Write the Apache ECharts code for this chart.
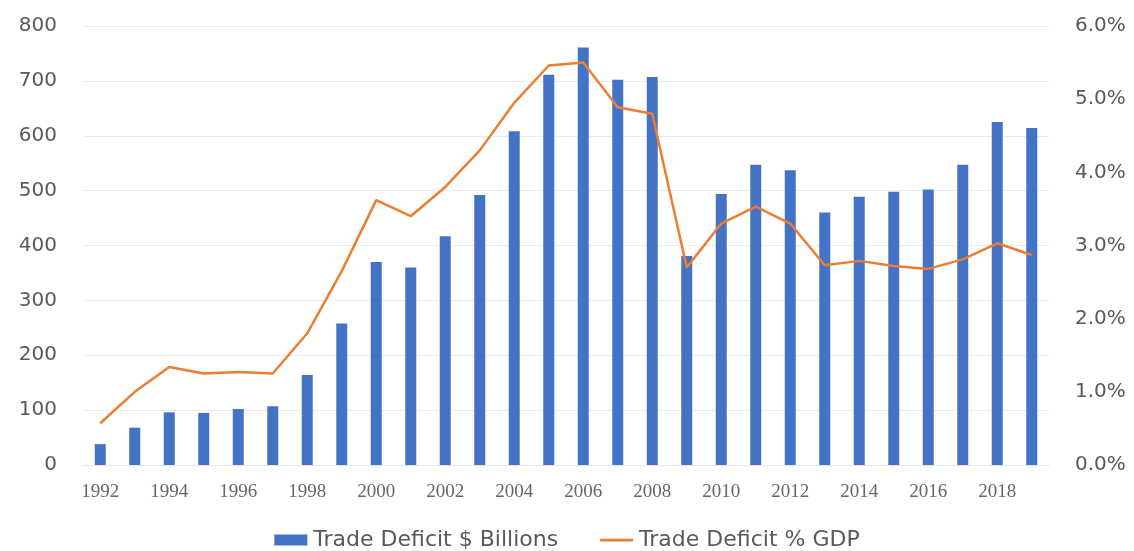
<!DOCTYPE html>
<html>
<head>
<meta charset="utf-8">
<script src="https://cdn.jsdelivr.net/npm/echarts@6/dist/echarts.min.js"></script>
<style>html,body{margin:0;padding:0;background:#fff}#c{width:1134px;height:551px}</style>
</head>
<body>
<div id="c"></div>
<script>
const years = ['1992','1993','1994','1995','1996','1997','1998','1999','2000','2001','2002','2003','2004','2005','2006','2007','2008','2009','2010','2011','2012','2013','2014','2015','2016','2017','2018','2019'];
const deficitBillions = [38, 68, 96, 95, 102, 107, 164, 258, 370, 360, 417, 492, 608, 711, 761, 702, 707, 381, 494, 547, 537, 460, 489, 498, 502, 547, 625, 614];
const deficitPctGDP = [0.57, 1.0, 1.34, 1.25, 1.27, 1.25, 1.8, 2.65, 3.62, 3.4, 3.8, 4.3, 4.95, 5.46, 5.5, 4.89, 4.8, 2.7, 3.3, 3.53, 3.3, 2.73, 2.79, 2.72, 2.68, 2.81, 3.03, 2.87];
const leftTicks = {min: 0, max: 800, interval: 100};
const rightTicks = {min: 0, max: 6, interval: 1};

const chart = echarts.init(document.getElementById('c'));
chart.setOption({
  animation: false,
  grid: {left: 83, right: 85, top: 26, bottom: 86},
  legend: {
    top: 524, left: 'center', itemGap: 42,
    textStyle: {fontSize: 22, color: '#595959', fontFamily: 'DejaVu Sans', padding: [0, 0, 0, 1]},
    data: [
      {name: 'Trade Deficit $ Billions', icon: 'rect', itemStyle: {color: '#4472C4'}},
      {name: 'Trade Deficit % GDP', icon: 'path://M0,0 L36,0 L36,3 L0,3 Z', itemStyle: {color: '#ED7D31'}}
    ],
    itemWidth: 33, itemHeight: 11
  },
  xAxis: {
    type: 'category', data: years,
    axisLine: {show: true, lineStyle: {color: '#e6e6e6'}},
    axisTick: {show: false},
    axisLabel: {interval: 1, color: '#666666', fontSize: 19, margin: 18, fontFamily: 'Liberation Serif'}
  },
  yAxis: [
    {type: 'value', min: leftTicks.min, max: leftTicks.max, interval: leftTicks.interval,
     axisLabel: {color: '#595959', fontSize: 20, margin: 26, fontFamily: 'DejaVu Sans'},
     splitLine: {lineStyle: {color: '#ececec'}}, axisLine: {show: false}, axisTick: {show: false}},
    {type: 'value', min: rightTicks.min, max: rightTicks.max, interval: rightTicks.interval,
     axisLabel: {color: '#595959', fontSize: 20, margin: 26, fontFamily: 'DejaVu Sans', formatter: v => v.toFixed(1) + '%'},
     splitLine: {show: false}, axisLine: {show: false}, axisTick: {show: false}}
  ],
  series: [
    {name: 'Trade Deficit $ Billions', type: 'bar', data: deficitBillions, barWidth: 11,
     itemStyle: {color: '#4472C4'}, yAxisIndex: 0},
    {name: 'Trade Deficit % GDP', type: 'line', data: deficitPctGDP, yAxisIndex: 1,
     symbol: 'none', lineStyle: {color: '#ED7D31', width: 2.5}, itemStyle: {color: '#ED7D31'}}
  ]
});
</script>
</body>
</html>
